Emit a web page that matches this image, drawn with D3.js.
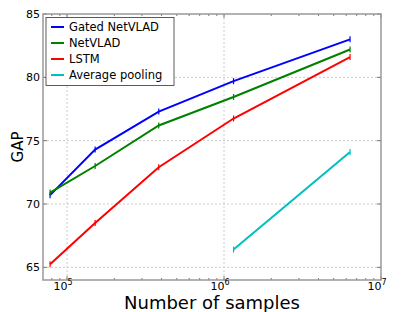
<!DOCTYPE html>
<html><head><meta charset="utf-8">
<script src="https://cdn.jsdelivr.net/npm/d3@7"></script>
<style>body{margin:0;background:#fff}svg{display:block;font-family:"DejaVu Sans",sans-serif}</style>
</head><body><svg id="c" width="415" height="312"></svg>
<script>
const samples = [78000, 151000, 384000, 1150000, 6350000];
const gatedNetVLAD = [70.7, 74.3, 77.3, 79.7, 83.0];
const netVLAD = [70.9, 73.0, 76.2, 78.45, 82.2];
const lstm = [65.25, 68.5, 72.9, 76.75, 81.6];
const avgSamples = [1150000, 6350000];
const avgPooling = [66.4, 74.1];
const yTicks = [65, 70, 75, 80, 85];
const xTicks = [1e5, 1e6, 1e7];
const xTickExp = ["5", "6", "7"];
const seriesNames = ["Gated NetVLAD", "NetVLAD", "LSTM", "Average pooling"];
const colors = ["#0000ff", "#008000", "#ff0000", "#00bfbf"];

const svg = d3.select("#c");
const L = 43, R = 381, T = 14, B = 280;
const x = d3.scaleLog().domain([70300, 1e7]).range([L, R]);
const y = d3.scaleLinear().domain([64, 85]).range([B, T]);

// grid
const g = svg.append("g");
g.selectAll(".gx").data(xTicks.slice(0, 2)).enter().append("line")
  .attr("x1", d => x(d)).attr("x2", d => x(d)).attr("y1", T).attr("y2", B)
  .attr("stroke", "#cccccc").attr("stroke-dasharray", "2,2").attr("stroke-width", 1);
g.selectAll(".gy").data(yTicks.slice(0, 4)).enter().append("line")
  .attr("x1", L).attr("x2", R).attr("y1", d => y(d)).attr("y2", d => y(d))
  .attr("stroke", "#cccccc").attr("stroke-dasharray", "2,2").attr("stroke-width", 1);

// minor ticks
const minor = [];
for (let e = 4; e <= 6; e++) for (let m = 2; m <= 9; m++) { const v = m * Math.pow(10, e); if (v > 70300 && v < 1e7) minor.push(v); }
const tickCol = "#555";
minor.forEach(v => {
  svg.append("line").attr("x1", x(v)).attr("x2", x(v)).attr("y1", B).attr("y2", B - 2).attr("stroke", tickCol).attr("stroke-width", 0.8);
  svg.append("line").attr("x1", x(v)).attr("x2", x(v)).attr("y1", T).attr("y2", T + 2).attr("stroke", tickCol).attr("stroke-width", 0.8);
});
xTicks.forEach(v => {
  svg.append("line").attr("x1", x(v)).attr("x2", x(v)).attr("y1", B).attr("y2", B - 4).attr("stroke", tickCol).attr("stroke-width", 0.8);
  svg.append("line").attr("x1", x(v)).attr("x2", x(v)).attr("y1", T).attr("y2", T + 4).attr("stroke", tickCol).attr("stroke-width", 0.8);
});
yTicks.forEach(v => {
  svg.append("line").attr("x1", L).attr("x2", L + 4).attr("y1", y(v)).attr("y2", y(v)).attr("stroke", tickCol).attr("stroke-width", 0.8);
  svg.append("line").attr("x1", R).attr("x2", R - 4).attr("y1", y(v)).attr("y2", y(v)).attr("stroke", tickCol).attr("stroke-width", 0.8);
});

// series
const series = [
  {xs: samples, ys: gatedNetVLAD},
  {xs: samples, ys: netVLAD},
  {xs: samples, ys: lstm},
  {xs: avgSamples, ys: avgPooling}
];
const line = d3.line().x(d => x(d[0])).y(d => y(d[1]));
series.forEach((s, i) => {
  const pts = s.xs.map((v, j) => [v, s.ys[j]]);
  svg.append("path").attr("d", line(pts)).attr("fill", "none").attr("stroke", colors[i]).attr("stroke-width", 2);
  pts.forEach(p => {
    svg.append("line").attr("x1", x(p[0])).attr("x2", x(p[0])).attr("y1", y(p[1]) - 3).attr("y2", y(p[1]) + 3)
      .attr("stroke", colors[i]).attr("stroke-width", 1.2);
  });
});

// frame
svg.append("rect").attr("x", L).attr("y", T).attr("width", R - L).attr("height", B - T)
  .attr("fill", "none").attr("stroke", "#999999").attr("stroke-width", 1.5);

// tick labels
svg.selectAll(".yl").data(yTicks).enter().append("text")
  .attr("x", L - 3).attr("y", d => y(d) + 4).attr("text-anchor", "end")
  .attr("font-size", 11).attr("fill", "#000").text(d => d);
xTicks.forEach((v, i) => {
  const t = svg.append("text").attr("x", x(v) - 4).attr("y", B + 10).attr("text-anchor", "middle")
    .attr("font-size", 11).attr("fill", "#000");
  t.append("tspan").text("10");
  t.append("tspan").attr("dy", -5).attr("font-size", 8).text(xTickExp[i]);
});

// axis labels
svg.append("text").attr("x", (L + R) / 2).attr("y", 309).attr("text-anchor", "middle")
  .attr("font-size", 18).text("Number of samples");
svg.append("text").attr("transform", `translate(23,${(T + B) / 2}) rotate(-90)`).attr("text-anchor", "middle")
  .attr("font-size", 15).text("GAP");

// legend
const lg = svg.append("g");
lg.append("rect").attr("x", 46).attr("y", 17.5).attr("width", 128).attr("height", 68)
  .attr("fill", "#fff").attr("stroke", "#333").attr("stroke-width", 0.8);
seriesNames.forEach((n, i) => {
  const yy = 27 + i * 16;
  lg.append("line").attr("x1", 51).attr("x2", 64).attr("y1", yy).attr("y2", yy).attr("stroke", colors[i]).attr("stroke-width", 2);
  lg.append("text").attr("x", 69).attr("y", yy + 4).attr("font-size", 11.5).text(n);
});
</script></body></html>
